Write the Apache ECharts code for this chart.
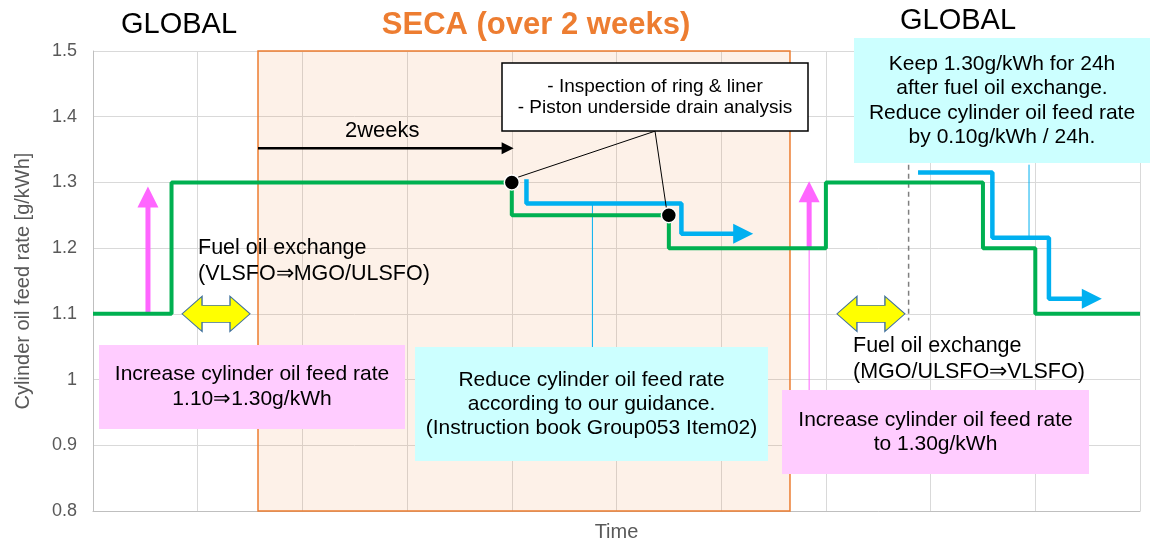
<!DOCTYPE html>
<html>
<head>
<meta charset="utf-8">
<script src="https://cdn.jsdelivr.net/npm/echarts@6/dist/echarts.min.js"></script>
<style>
  html, body { margin: 0; padding: 0; background: #fff; overflow: hidden; }
  #chart { position: absolute; left: 0; top: 0; width: 1154px; height: 541px; }
</style>
</head>
<body>
<div id="chart"></div>
<script>
// y axis ticks
var yTicks = [0.8, 0.9, 1.0, 1.1, 1.2, 1.3, 1.4, 1.5];
// feed rate steps (green)
var feedRate = [[0, 1.1], [0.75, 1.1], [0.75, 1.3], [4, 1.3], [4, 1.25], [5.5, 1.25], [5.5, 1.2],
    [7, 1.2], [7, 1.3], [8.5, 1.3], [8.5, 1.2], [9, 1.2], [9, 1.1], [10, 1.1]];
// reduce steps (blue arrows)
var reduceSeca = [[4.14, 1.305], [4.14, 1.268], [5.62, 1.268], [5.62, 1.222], [6.21, 1.222]];
var reduceGlobal = [[7.88, 1.315], [8.59, 1.315], [8.59, 1.216], [9.13, 1.216], [9.13, 1.123], [9.54, 1.123]];
// increase arrows (pink)
var increase1 = [[0.525, 1.1], [0.525, 1.278]];
var increase2 = [[6.84, 1.2], [6.84, 1.286]];
var increase2Lead = [[6.84, 1.2], [6.84, 0.983]];
// check points
var checkPoints = [[4, 1.3], [5.5, 1.25]];
var callout1 = [[5.368, 1.378], [4.06, 1.308]];
var callout2 = [[5.368, 1.378], [5.48, 1.257]];
// leader lines of the blue notes
var noteLead1 = [[4.77, 1.268], [4.77, 1.049]];
var noteLead2 = [[8.94, 1.327], [8.94, 1.216]];
// fuel oil exchange
var exchange = [[1.175, 1.1], [7.43, 1.1]];
var exchangeMark = [[7.79, 1.327], [7.79, 1.09]];
// 2 weeks
var twoWeeks = [[1.576, 1.352], [3.96, 1.352]];
var secaRange = [1.576, 6.657];

var FONT = '"Liberation Sans", Arial, sans-serif';

var initChart = function () {
    var chart = echarts.init(document.getElementById('chart'));

    var line = function (data, color, width, extra) {
        var s = {
            type: 'line',
            data: data,
            symbol: 'none',
            showSymbol: true,
            silent: true,
            lineStyle: { color: color, width: width },
            itemStyle: { color: color },
            z: 5
        };
        for (var k in extra) { s[k] = extra[k]; }
        return s;
    };
    // last point gets an arrow head
    var withHead = function (data, size, rotate) {
        return data.map(function (p, i) {
            if (i < data.length - 1) return p;
            return { value: p, symbol: 'triangle', symbolSize: size, symbolRotate: rotate };
        });
    };

    var textBox = function (x, y, w, h, fill, stroke, lines, size, lh) {
        return {
            type: 'group',
            z: 100,
            children: [
                {
                    type: 'rect',
                    z: 100,
                    shape: { x: x, y: y, width: w, height: h },
                    style: { fill: fill, stroke: stroke, lineWidth: stroke ? 1.5 : 0 }
                },
                {
                    type: 'text',
                    z: 101,
                    x: x + w / 2,
                    y: y + h / 2,
                    style: {
                        text: lines.join('\n'),
                        font: size + 'px ' + FONT,
                        lineHeight: lh,
                        fill: '#000',
                        align: 'center', textAlign: 'center',
                        verticalAlign: 'middle', textVerticalAlign: 'middle'
                    }
                }
            ]
        };
    };
    var label = function (x, y, lines, size, color, align, weight, lh) {
        return {
            type: 'text',
            z: 100,
            x: x,
            y: y,
            style: {
                text: lines.join('\n'),
                font: (weight || 'normal') + ' ' + size + 'px ' + FONT,
                lineHeight: lh || size * 1.3,
                fill: color,
                align: align, textAlign: align,
                verticalAlign: 'middle', textVerticalAlign: 'middle'
            }
        };
    };

    var options = {
        animation: false,
        grid: { left: 93, right: 14, top: 51, bottom: 30, containLabel: false, outerBoundsMode: 'none' },
        xAxis: {
            type: 'value',
            min: 0,
            max: 10,
            interval: 1,
            name: 'Time',
            nameLocation: 'middle',
            nameGap: 11,
            nameTextStyle: { color: '#595959', fontSize: 20, fontFamily: FONT, verticalAlign: 'top' },
            axisLine: { show: true, lineStyle: { color: '#BFBFBF' } },
            axisTick: { show: false },
            axisLabel: { show: false },
            splitLine: { show: true, lineStyle: { color: '#D9D9D9', width: 1 } }
        },
        yAxis: {
            type: 'value',
            min: yTicks[0],
            max: yTicks[yTicks.length - 1],
            interval: 0.1,
            name: 'Cylinder oil feed rate [g/kWh]',
            nameLocation: 'middle',
            nameGap: 60,
            nameTextStyle: { color: '#595959', fontSize: 20, fontFamily: FONT },
            axisLine: { show: true, lineStyle: { color: '#BFBFBF' } },
            axisTick: { show: false },
            axisLabel: {
                color: '#595959',
                fontSize: 18,
                fontFamily: FONT,
                margin: 16,
                formatter: function (v) { return String(+v.toFixed(1)); }
            },
            splitLine: { show: true, lineStyle: { color: '#D9D9D9', width: 1 } }
        },
        series: [
            line(feedRate, '#00B050', 4, {
                markArea: {
                    silent: true,
                    itemStyle: { color: 'rgba(237,125,49,0.11)', borderColor: '#ED7D31', borderWidth: 1.5 },
                    data: [[{ xAxis: secaRange[0] }, { xAxis: secaRange[1] }]]
                },
                z: 6
            }),
            line(withHead(reduceSeca, [20, 20], -90), '#00B0F0', 4.5),
            line(withHead(reduceGlobal, [20, 20], -90), '#00B0F0', 4.5),
            line(withHead(increase1, [21, 21], 0), '#FF66FF', 5),
            line(withHead(increase2, [21, 21], 0), '#FF66FF', 5),
            line(increase2Lead, '#FF66FF', 1),
            line(noteLead1, '#00B0F0', 1),
            line(noteLead2, '#00B0F0', 1),
            line(callout1, '#000', 1),
            line(callout2, '#000', 1),
            line(withHead(twoWeeks, [12, 12], -90), '#000', 2.5),
            line(exchangeMark, '#7F7F7F', 1.5, { lineStyle: { color: '#7F7F7F', width: 1.5, type: [5, 4] } }),
            {
                type: 'scatter',
                data: exchange,
                silent: true,
                symbol: 'path://M0 17.5 L20 0 L20 9 L48 9 L48 0 L68 17.5 L48 35 L48 26 L20 26 L20 35 Z',
                symbolSize: [68, 35],
                itemStyle: { color: '#FFFF00', borderColor: '#41719C', borderWidth: 1, opacity: 1 },
                z: 7
            },
            {
                type: 'scatter',
                data: checkPoints,
                silent: true,
                symbol: 'circle',
                symbolSize: 15,
                itemStyle: { color: '#000', borderColor: '#fff', borderWidth: 1.5, opacity: 1 },
                z: 8
            }
        ],
        graphic: [
            label(179, 25, ['GLOBAL'], 29, '#000', 'center'),
            label(536, 25, ['SECA (over 2 weeks)'], 31, '#ED7D31', 'center', 'bold'),
            label(958, 21, ['GLOBAL'], 29, '#000', 'center'),
            label(198, 261, ['Fuel oil exchange', '(VLSFO\u21D2MGO/ULSFO)'], 21.5, '#000', 'left', 'normal', 26),
            label(853, 359, ['Fuel oil exchange', '(MGO/ULSFO\u21D2VLSFO)'], 21.5, '#000', 'left', 'normal', 26),
            label(345, 131, ['2weeks'], 22, '#000', 'left'),
            textBox(99, 345, 306, 84, '#FFCCFF', null,
                ['Increase cylinder oil feed rate', '1.10\u21D21.30g/kWh'], 21, 25),
            textBox(415, 347, 353, 114, '#CCFFFF', null,
                ['Reduce cylinder oil feed rate', 'according to our guidance.', '(Instruction book Group053 Item02)'], 21, 24),
            textBox(782, 390, 307, 84, '#FFCCFF', null,
                ['Increase cylinder oil feed rate', 'to 1.30g/kWh'], 21, 24),
            textBox(854, 38, 296, 125, '#CCFFFF', null,
                ['Keep 1.30g/kWh for 24h', 'after fuel oil exchange.', 'Reduce cylinder oil feed rate', 'by 0.10g/kWh / 24h.'], 21, 24.5),
            textBox(502, 63, 306, 68, '#FFFFFF', '#000',
                ['- Inspection of ring & liner', '- Piston underside drain analysis'], 19, 21)
        ]
    };
    chart.setOption(options);
};

initChart();
</script>
</body>
</html>
